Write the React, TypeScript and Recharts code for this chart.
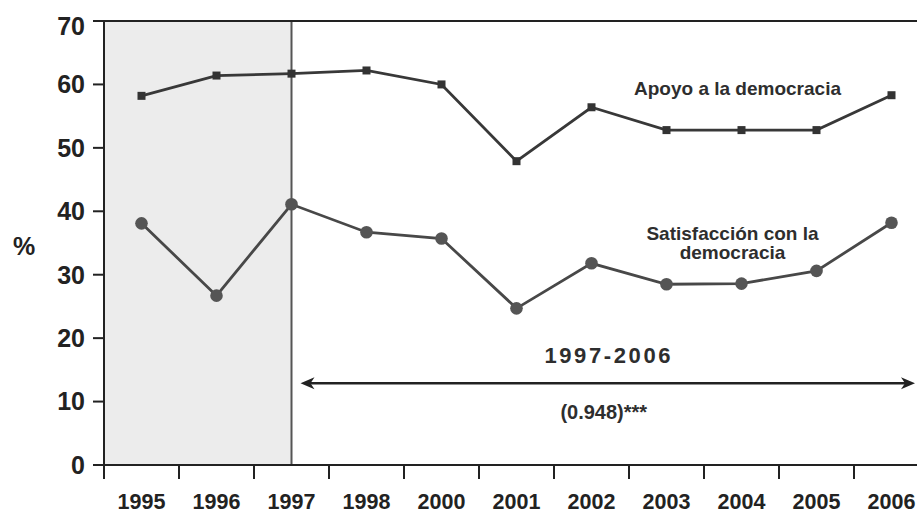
import React from 'react';
import {
  LineChart,
  Line,
  XAxis,
  YAxis,
  ReferenceArea,
  ReferenceLine,
  ReferenceDot,
} from 'recharts';

// ---- data ----
const years = ['1995', '1996', '1997', '1998', '2000', '2001', '2002', '2003', '2004', '2005', '2006'];
const apoyo = [58.2, 61.4, 61.7, 62.2, 60.0, 47.9, 56.4, 52.8, 52.8, 52.8, 58.3];
const satisfaccion = [38.1, 26.7, 41.1, 36.7, 35.7, 24.7, 31.8, 28.5, 28.6, 30.6, 38.2];
const yTicks = [0, 10, 20, 30, 40, 50, 60, 70];
const yLabel = '%';
const apoyoLabel = 'Apoyo a la democracia';
const satisLabel = ['Satisfacción con la', 'democracia'];
const periodLabel = '1997-2006';
const coefLabel = '(0.948)***';
const shadeFrom = '1995';
const shadeTo = '1997';
const arrowFrom = '1997';
const arrowTo = '2006';
const arrowLevel = 12.9;
const apoyoLabelAt = { x: '2004', y: 59.4 };
const satisLabelAt = { x: '2004', y: 35.5 };

const data = years.map((year, i) => ({ year, apoyo: apoyo[i], satisfaccion: satisfaccion[i] }));

// ---- styles ----
const FONT = '"Liberation Sans", Arial, Helvetica, sans-serif';
const AXIS = '#222222';
const TEXT = '#2e2e2e';
const X_TICK_SIZE = 14;
const X_TICK_MARGIN = 15;
const Y_LABEL_MIN_Y = 26;

const XTick = (props: any) => {
  const { x, y, payload } = props;
  const half = payload && typeof payload.offset === 'number' ? payload.offset : 0;
  const axisY = y - (X_TICK_SIZE + X_TICK_MARGIN);
  return (
    <g>
      <line
        x1={x - half}
        x2={x - half}
        y1={axisY}
        y2={axisY + X_TICK_SIZE}
        stroke={AXIS}
        strokeWidth={2}
      />
      <text
        x={x}
        y={y}
        dy="0.71em"
        textAnchor="middle"
        fill={AXIS}
        fontSize={21.5}
        fontWeight={700}
        fontFamily={FONT}
      >
        {payload.value}
      </text>
    </g>
  );
};

const YTick = (props: any) => {
  const { x, y, payload } = props;
  return (
    <text
      x={x}
      y={Math.max(y, Y_LABEL_MIN_Y)}
      dy="0.355em"
      textAnchor="end"
      fill={AXIS}
      fontSize={25}
      fontWeight={700}
      fontFamily={FONT}
    >
      {payload.value}
    </text>
  );
};

const PercentLabel = (props: any) => {
  const vb = props.viewBox || { x: 0, y: 0, width: 0, height: 0 };
  return (
    <text
      x={vb.x + 24}
      y={vb.y + vb.height / 2 + 12}
      textAnchor="middle"
      fill={AXIS}
      fontSize={25}
      fontWeight={700}
      fontFamily={FONT}
    >
      {yLabel}
    </text>
  );
};

// shade from the start of the first band to the middle of the last band
const ShadeShape = (props: any) => (
  <rect
    x={props.x}
    y={props.y}
    width={(props.width * 5) / 6}
    height={props.height}
    fill="#ececec"
    stroke="none"
  />
);

const ArrowShape = (props: any) => {
  const { x1, y1, x2 } = props;
  const L = x1 + 9;
  const R = x2 + 23.5;
  const mid = (L + R) / 2;
  return (
    <g>
      <line x1={L + 6} x2={R - 6} y1={y1} y2={y1} stroke={AXIS} strokeWidth={2.6} />
      <path d={`M${L},${y1} L${L + 14},${y1 - 6} L${L + 10},${y1} L${L + 14},${y1 + 6} Z`} fill={AXIS} />
      <path d={`M${R},${y1} L${R - 14},${y1 - 6} L${R - 10},${y1} L${R - 14},${y1 + 6} Z`} fill={AXIS} />
      <text
        x={mid + 1}
        y={y1 - 20.5}
        textAnchor="middle"
        fill={TEXT}
        fontSize={22}
        fontWeight={700}
        fontFamily={FONT}
        letterSpacing={2.6}
      >
        {periodLabel}
      </text>
      <text
        x={mid - 4}
        y={y1 + 35.5}
        textAnchor="middle"
        fill={TEXT}
        fontSize={20}
        fontWeight={700}
        fontFamily={FONT}
      >
        {coefLabel}
      </text>
    </g>
  );
};

const ApoyoContent = (props: any) => {
  const vb = props.viewBox;
  const cx = vb.x + vb.width / 2 - 4;
  const cy = vb.y + vb.height / 2;
  return (
    <text
      x={cx}
      y={cy + 6.8}
      textAnchor="middle"
      fill={TEXT}
      fontSize={19}
      fontWeight={700}
      fontFamily={FONT}
    >
      {apoyoLabel}
    </text>
  );
};

const SatisContent = (props: any) => {
  const vb = props.viewBox;
  const cx = vb.x + vb.width / 2 - 9;
  const cy = vb.y + vb.height / 2;
  return (
    <text textAnchor="middle" fill={TEXT} fontSize={19} fontWeight={700} fontFamily={FONT}>
      <tspan x={cx} y={cy}>
        {satisLabel[0]}
      </tspan>
      <tspan x={cx} y={cy + 19.5}>
        {satisLabel[1]}
      </tspan>
    </text>
  );
};

const SquareDot = (props: any) => {
  const { cx, cy, index } = props;
  if (cx == null || cy == null) return <g key={`sq-${index}`} />;
  return <rect key={`sq-${index}`} x={cx - 4} y={cy - 4} width={8} height={8} fill="#333333" />;
};

export default function App() {
  return (
    <div
      style={{
        position: 'fixed',
        left: 0,
        top: 0,
        width: 917,
        height: 513,
        overflow: 'hidden',
        background: '#ffffff',
      }}
    >
      <LineChart
        width={934}
        height={513}
        data={data}
        margin={{ top: 21, right: 5, bottom: 0, left: 0 }}
      >
        <ReferenceArea x1={shadeFrom} x2={shadeTo} shape={ShadeShape} ifOverflow="visible" />
        <ReferenceLine x={shadeTo} stroke="#555555" strokeWidth={2} />
        <ReferenceLine y={70} stroke={AXIS} strokeWidth={2} />
        <ReferenceLine
          segment={[
            { x: arrowFrom, y: arrowLevel },
            { x: arrowTo, y: arrowLevel },
          ]}
          shape={ArrowShape}
          ifOverflow="visible"
        />
        <ReferenceDot
          x={apoyoLabelAt.x}
          y={apoyoLabelAt.y}
          r={0}
          fill="none"
          stroke="none"
          label={{ content: ApoyoContent }}
        />
        <ReferenceDot
          x={satisLabelAt.x}
          y={satisLabelAt.y}
          r={0}
          fill="none"
          stroke="none"
          label={{ content: SatisContent }}
        />
        <XAxis
          dataKey="year"
          scale="band"
          height={48}
          interval={0}
          tickSize={X_TICK_SIZE}
          tickMargin={X_TICK_MARGIN}
          tickLine={false}
          axisLine={{ stroke: AXIS, strokeWidth: 2 }}
          tick={XTick}
        />
        <YAxis
          width={104}
          domain={[0, 70]}
          ticks={yTicks}
          interval={0}
          tickSize={11}
          tickMargin={8}
          axisLine={{ stroke: AXIS, strokeWidth: 2 }}
          tickLine={{ stroke: AXIS, strokeWidth: 2 }}
          tick={YTick}
          label={{ content: PercentLabel }}
        />
        <Line
          dataKey="apoyo"
          type="linear"
          stroke="#383838"
          strokeWidth={2.8}
          dot={SquareDot}
          activeDot={false}
          isAnimationActive={false}
        />
        <Line
          dataKey="satisfaccion"
          type="linear"
          stroke="#484848"
          strokeWidth={2.8}
          dot={{ r: 6.3, fill: '#555555', stroke: '#555555', strokeWidth: 0 }}
          activeDot={false}
          isAnimationActive={false}
        />
      </LineChart>
    </div>
  );
}
